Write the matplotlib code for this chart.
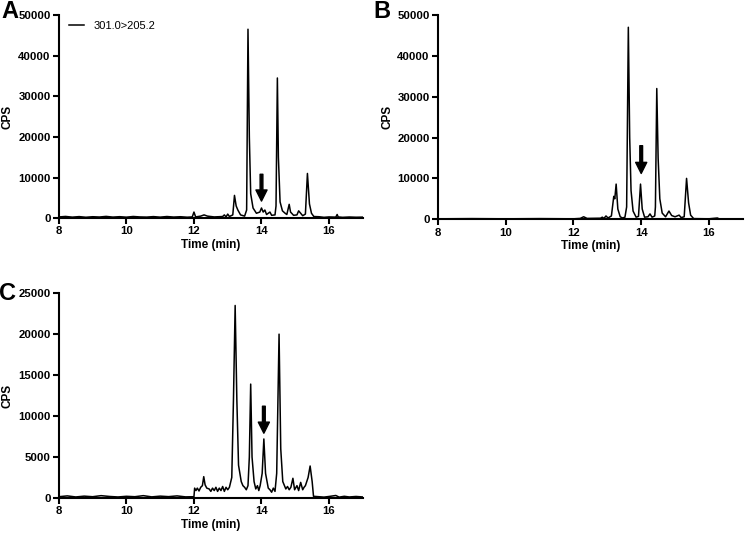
import matplotlib
matplotlib.use("Agg")
import matplotlib.pyplot as plt

plt.rcParams['font.family'] = ['Liberation Sans', 'DejaVu Sans']
plt.rcParams['font.weight'] = 'bold'

##### chromatogram traces (time in min, cps)

time_a = [8.0, 8.2, 8.4, 8.6, 8.8, 9.0, 9.2, 9.4, 9.6, 9.8, 10.0, 10.2, 10.4, 10.6, 10.8, 11.0,
          11.2, 11.4, 11.6, 11.8, 11.95, 12.0, 12.05, 12.2, 12.3, 12.4, 12.6,
          12.85, 12.9, 12.95, 13.0, 13.05, 13.15, 13.2, 13.25, 13.3, 13.38, 13.5, 13.56, 13.6,
          13.64, 13.68, 13.75, 13.85, 13.95, 14.0, 14.05, 14.1, 14.15, 14.25, 14.3, 14.4, 14.43,
          14.47, 14.5, 14.55, 14.62, 14.7, 14.75, 14.82, 14.86, 14.95, 15.05, 15.1, 15.15, 15.22,
          15.3, 15.36, 15.42, 15.48, 15.55, 15.7, 15.85, 16.0, 16.2, 16.24, 16.27, 16.4, 16.6,
          16.8, 17.0]
cps_a = [300, 420, 250, 380, 220, 350, 280, 430, 260, 360, 240, 410, 300, 260, 380, 250,
         400, 270, 350, 230, 300, 1500, 300, 500, 800, 500, 300,
         400, 800, 300, 1000, 400, 800, 5600, 3000, 2000, 800, 500, 2000, 46500,
         20000, 6000, 2500, 1200, 1500, 2500, 1500, 2000, 900, 1500, 700, 800, 3000,
         34500, 15000, 4000, 1800, 1200, 900, 3400, 1500, 700, 800, 1800, 1300, 600,
         1000, 11000, 3500, 1200, 400, 350, 200, 300, 250, 900, 300, 200, 280,
         220, 250]

time_b = [8.0, 9.0, 10.0, 11.0, 12.0, 12.2, 12.3, 12.4, 12.8, 12.85, 12.9, 12.96, 13.02, 13.12,
          13.19, 13.22, 13.26, 13.31, 13.38, 13.45, 13.52, 13.57, 13.62, 13.66, 13.7, 13.76,
          13.85, 13.92, 13.98, 14.03, 14.1, 14.2, 14.26, 14.32, 14.4, 14.42, 14.46, 14.5, 14.55,
          14.62, 14.72, 14.82, 14.9, 15.0, 15.12, 15.18, 15.27, 15.34, 15.4, 15.46, 15.55, 16.0,
          16.25, 16.3, 17.0]
cps_b = [100, 150, 100, 150, 100, 200, 600, 200, 250, 500, 200, 800, 300, 800,
         5600, 5000, 8600, 2500, 600, 300, 500, 3000, 47000, 20000, 7000, 2000,
         500, 700, 8600, 2500, 500, 600, 1300, 500, 800, 3000, 32000, 15000, 5000,
         1500, 600, 2000, 900, 600, 1000, 400, 600, 10000, 4000, 1000, 150, 100,
         300, 100, 100]

time_c = [8.0, 8.25, 8.5, 8.75, 9.0, 9.25, 9.5, 9.75, 10.0, 10.25, 10.5, 10.75, 11.0, 11.25,
          11.5, 11.75, 12.0, 12.02, 12.06, 12.1, 12.15, 12.2, 12.25, 12.29, 12.33, 12.38,
          12.45, 12.5, 12.55, 12.6, 12.65, 12.7, 12.75, 12.8, 12.85, 12.9, 12.95, 13.0, 13.05,
          13.12, 13.17, 13.22, 13.27, 13.32, 13.4, 13.45, 13.5, 13.55, 13.6, 13.64, 13.68, 13.72,
          13.78, 13.83, 13.88, 13.92, 13.96, 14.02, 14.07, 14.12, 14.2, 14.25, 14.3, 14.35,
          14.4, 14.45, 14.52, 14.57, 14.63, 14.68, 14.72, 14.77, 14.82, 14.87, 14.93, 14.98,
          15.05, 15.1, 15.16, 15.22, 15.26, 15.3, 15.38, 15.44, 15.5, 15.54, 15.7, 15.85,
          16.0, 16.2, 16.3, 16.45, 16.6, 16.8, 17.0]
cps_c = [150, 250, 120, 220, 150, 280, 180, 120, 200, 150, 280, 130, 220, 160,
         250, 130, 150, 1200, 900, 1200, 850, 1300, 1500, 2600, 1600, 1200,
         1100, 800, 1200, 900, 1300, 800, 1200, 900, 1400, 800, 1300, 1000, 1300,
         2500, 12000, 23500, 12000, 4000, 2000, 1500, 1300, 1000, 1500, 5000, 13900, 5000,
         2000, 1100, 1500, 900, 1500, 3000, 7200, 3000, 1200, 1000, 700, 1200,
         800, 3000, 20000, 6000, 2000, 1500, 1100, 1400, 1000, 1300, 2400, 1000,
         1500, 900, 1900, 1000, 1300, 1500, 2500, 3900, 2000, 200, 150, 100,
         180, 300, 100, 200, 120, 180, 120]

# arrows: (time, top of shaft, tip) in cps
arrow_a = (14.0, 10800, 4200)
arrow_b = (14.0, 18000, 11200)
arrow_c = (14.07, 11200, 7900)

panels = ["A", "B", "C"]
legend_label = "301.0>205.2"

fig = plt.figure(figsize=(7.45, 5.36), dpi=100)
ax_a = fig.add_axes([0.079, 0.593, 0.408, 0.379])
ax_b = fig.add_axes([0.588, 0.591, 0.409, 0.381])
ax_c = fig.add_axes([0.079, 0.071, 0.408, 0.382])

data = [(ax_a, time_a, cps_a, arrow_a, 50000, 10000, (-0.16, 1.015)),
        (ax_b, time_b, cps_b, arrow_b, 50000, 10000, (-0.185, 1.015)),
        (ax_c, time_c, cps_c, arrow_c, 25000, 5000, (-0.17, 1.0))]

for i, (ax, t, y, arr, ymax, ystep, lpos) in enumerate(data):
    ax.plot(t, y, color="black", lw=1.1, label=legend_label)
    ax.set_xlim(8, 17)
    ax.set_ylim(0, ymax)
    ax.set_xticks([8, 10, 12, 14, 16])
    ax.set_yticks(range(0, ymax + 1, ystep))
    for s in ["top", "right"]:
        ax.spines[s].set_visible(False)
    for s in ["left", "bottom"]:
        ax.spines[s].set_linewidth(1.5)
    ax.tick_params(direction="out", length=4, width=1.5, labelsize=8.2, pad=2)
    ax.set_ylabel("CPS", fontsize=8.5, fontweight="bold", labelpad=3)
    ax.set_xlabel("Time (min)", fontsize=8.5, fontweight="bold", labelpad=2)
    ax.annotate("", xy=(arr[0], arr[2]), xytext=(arr[0], arr[1]),
                arrowprops=dict(facecolor="black", edgecolor="black", width=2.0,
                                headwidth=8, headlength=8, shrink=0))
    ax.text(lpos[0], lpos[1], panels[i], transform=ax.transAxes, fontsize=17,
            fontweight="bold", ha="center", va="center")

ax_a.legend(loc="upper left", bbox_to_anchor=(0.0, 1.02), frameon=False,
            prop={"size": 8, "weight": "normal"}, handlelength=1.4, handletextpad=0.8)

fig.savefig("out.png", dpi=100)
